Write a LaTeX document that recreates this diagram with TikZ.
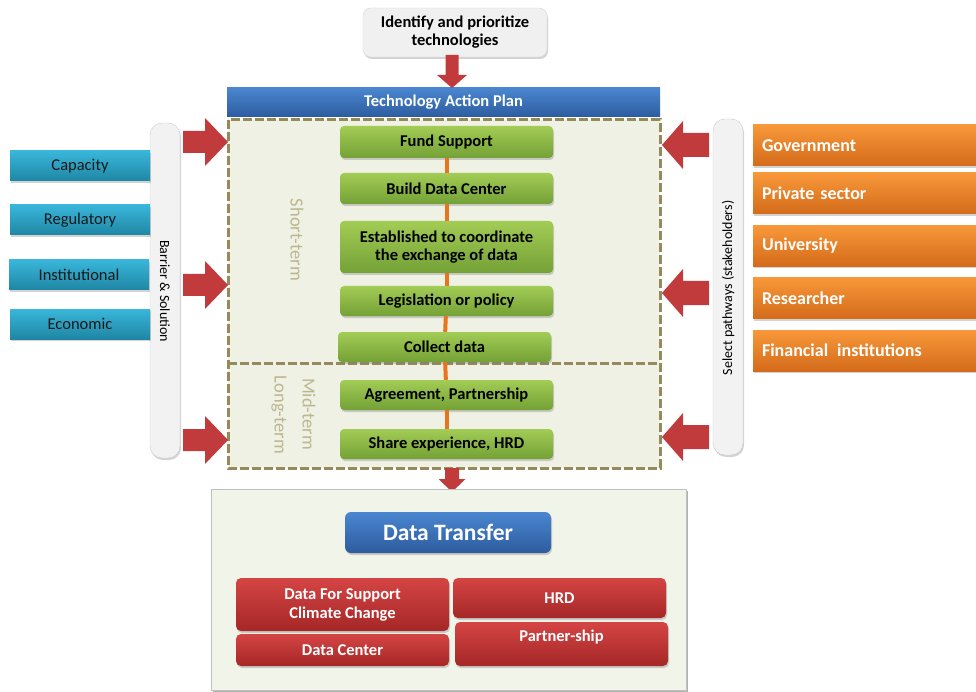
\documentclass[tikz,border=0pt]{standalone}
\usepackage{fontspec}
\setmainfont{Carlito}
\usetikzlibrary{shadows}

\definecolor{planTop}{HTML}{4A86D0}
\definecolor{planBot}{HTML}{2D5C9E}
\definecolor{stepTop}{HTML}{A2CC55}
\definecolor{stepBot}{HTML}{74A136}
\definecolor{barTop}{HTML}{39B6DA}
\definecolor{barBot}{HTML}{1F86A4}
\definecolor{actTop}{HTML}{F8983A}
\definecolor{actBot}{HTML}{D46B1A}
\definecolor{outTop}{HTML}{D54444}
\definecolor{outBot}{HTML}{A52727}
\definecolor{arrowred}{HTML}{C23B3C}
\definecolor{linkorange}{HTML}{E8741E}
\definecolor{frameolive}{HTML}{948A5A}
\definecolor{panelfill}{HTML}{EEF1E3}
\definecolor{termtext}{HTML}{BDB78E}

\begin{document}
\begin{tikzpicture}[x=1pt,y=-1pt,
  every node/.style={inner sep=2pt},
  sh/.style={drop shadow={opacity=0.35,shadow xshift=1pt,shadow yshift=-2pt}},
  greybox/.style={rounded corners=8pt,fill=black!6,draw=black!15,sh,align=center,
    font=\bfseries\fontsize{16.5}{18}\selectfont},
  planbar/.style={top color=planTop,bottom color=planBot,text=white,
    font=\bfseries\fontsize{16.5}{18}\selectfont},
  stepbox/.style={rounded corners=4pt,top color=stepTop,bottom color=stepBot,sh,
    minimum width=213,align=center,font=\bfseries\fontsize{16.5}{18}\selectfont},
  barrierbox/.style={top color=barTop,bottom color=barBot,sh,minimum width=140,
    minimum height=30,text=black!90,font=\fontsize{16.5}{18}\selectfont},
  actorbox/.style={top color=actTop,bottom color=actBot,sh,minimum width=223,
    minimum height=41,text width=205,align=left,text=white,
    font=\bfseries\fontsize{18}{20}\selectfont},
  outbox/.style={rounded corners=5pt,top color=outTop,bottom color=outBot,sh,
    minimum width=213,align=center,text=white,font=\bfseries\fontsize{16.5}{19}\selectfont},
  sidebar/.style={rounded corners=12pt,fill=black!5,draw=black!20,sh,
    minimum width=30},
  sidelabel/.style={font=\fontsize{14}{16}\selectfont},
  termlabel/.style={text=termtext,font=\fontsize{18.5}{20}\selectfont},
  link/.style={linkorange,line width=4pt},
  frame/.style={frameolive,line width=3pt,dash pattern=on 9pt off 3pt},
  pics/blockarrow/.style n args={4}{code={
    \fill[arrowred] (0,-#2) -- (#1-#3,-#2) -- (#1-#3,-#4) -- (#1,0)
      -- (#1-#3,#4) -- (#1-#3,#2) -- (0,#2) -- cycle;}}
]
\useasboundingbox (0,0) rectangle (976,692);

% top of the plan
\node[greybox,minimum width=184,minimum height=49] (identify) at (455,32.5)
  {Identify and prioritize\\technologies};
\node[planbar,minimum width=433,minimum height=29] (plan) at (443.5,102.5)
  {Technology Action Plan};
\pic[rotate=-90] at (452,55) {blockarrow={33}{6.5}{13}{15}};

% dashed frame with the two periods
\draw[frame,fill=panelfill] (228,120) rectangle (660,468);
\draw[frame] (228,363) -- (660,363);

\node[termlabel,rotate=-90] (short) at (297,240) {Short-term};
\node[termlabel,rotate=-90] (mid) at (309,414) {Mid-term};
\node[termlabel,rotate=-90] (long) at (279,415) {Long-term};

% steps
\node[stepbox,minimum height=32] (fund) at (446.5,142) {Fund Support};
\node[stepbox,minimum height=31] (build) at (446.5,188.5) {Build Data Center};
\node[stepbox,minimum height=52] (coord) at (446.5,247)
  {Established to coordinate\\the exchange of data};
\node[stepbox,minimum height=30] (legis) at (446.5,301) {Legislation or policy};
\node[stepbox,minimum height=30] (collect) at (444.5,347) {Collect data};
\node[stepbox,minimum height=30] (agree) at (446.5,395) {Agreement, Partnership};
\node[stepbox,minimum height=30] (share) at (446.5,444) {Share experience, HRD};

\draw[link] (fund) -- (build);
\draw[link] (build) -- (coord);
\draw[link] (coord) -- (legis);
\draw[link] (legis) -- (collect);
\draw[link] (collect) -- (agree);
\draw[link] (agree) -- (share);

% barriers on the left
\node[sidebar,minimum height=335] (barrier) at (165,290.5) {};
\node[sidelabel,rotate=-90] (barrierlbl) at (165,291) {Barrier \& Solution};
\node[barrierbox] (capacity) at (80,166) {Capacity};
\node[barrierbox] (regulatory) at (80,220) {Regulatory};
\node[barrierbox] (institutional) at (79,275) {Institutional};
\node[barrierbox] (economic) at (80,324) {Economic};

\pic at (183,142) {blockarrow={45}{11}{23}{24}};
\pic at (183,285) {blockarrow={45}{11}{23}{24}};
\pic at (183,440) {blockarrow={45}{11}{23}{24}};

% stakeholders on the right
\node[sidebar,minimum height=336] (pathways) at (728,287) {};
\node[sidelabel,rotate=90] (pathwayslbl) at (728,288) {Select pathways (stakeholders)};
\node[actorbox] (gov) at (864.5,145.5) {Government};
\node[actorbox] (private) at (864.5,193.5) {Private sector};
\node[actorbox] (univ) at (864.5,246) {University};
\node[actorbox] (research) at (864.5,298) {Researcher};
\node[actorbox] (finance) at (864.5,350.5) {Financial\hspace{3pt} institutions};

\pic[rotate=180] at (709,145) {blockarrow={47}{12}{21}{24}};
\pic[rotate=180] at (709,293) {blockarrow={47}{12}{21}{24}};
\pic[rotate=180] at (709,437) {blockarrow={47}{12}{21}{24}};

% result panel
\pic[rotate=-90] at (452,468) {blockarrow={24}{7}{13}{13.5}};
\fill[black!30] (213,491) rectangle (688,692);
\node[fill=panelfill!80!white,draw=black!25,minimum width=475,minimum height=201]
  (result) at (448.5,589.5) {};
\node[rounded corners=6pt,top color=planTop,bottom color=planBot,sh,
  minimum width=206,minimum height=41,text=white,
  font=\bfseries\fontsize{23.5}{25}\selectfont] (transfer) at (448,532.5) {Data Transfer};

\node[outbox,minimum height=53] (support) at (342.5,604.5)
  {Data For Support\\Climate Change};
\node[outbox,minimum height=40] (hrd) at (559.5,598) {HRD};
\node[outbox,minimum height=32] (dcenter) at (342.5,650) {Data Center};
\node[outbox,minimum height=44,text depth=16pt] (partner) at (561.5,644) {Partner-ship};

\end{tikzpicture}
\end{document}
